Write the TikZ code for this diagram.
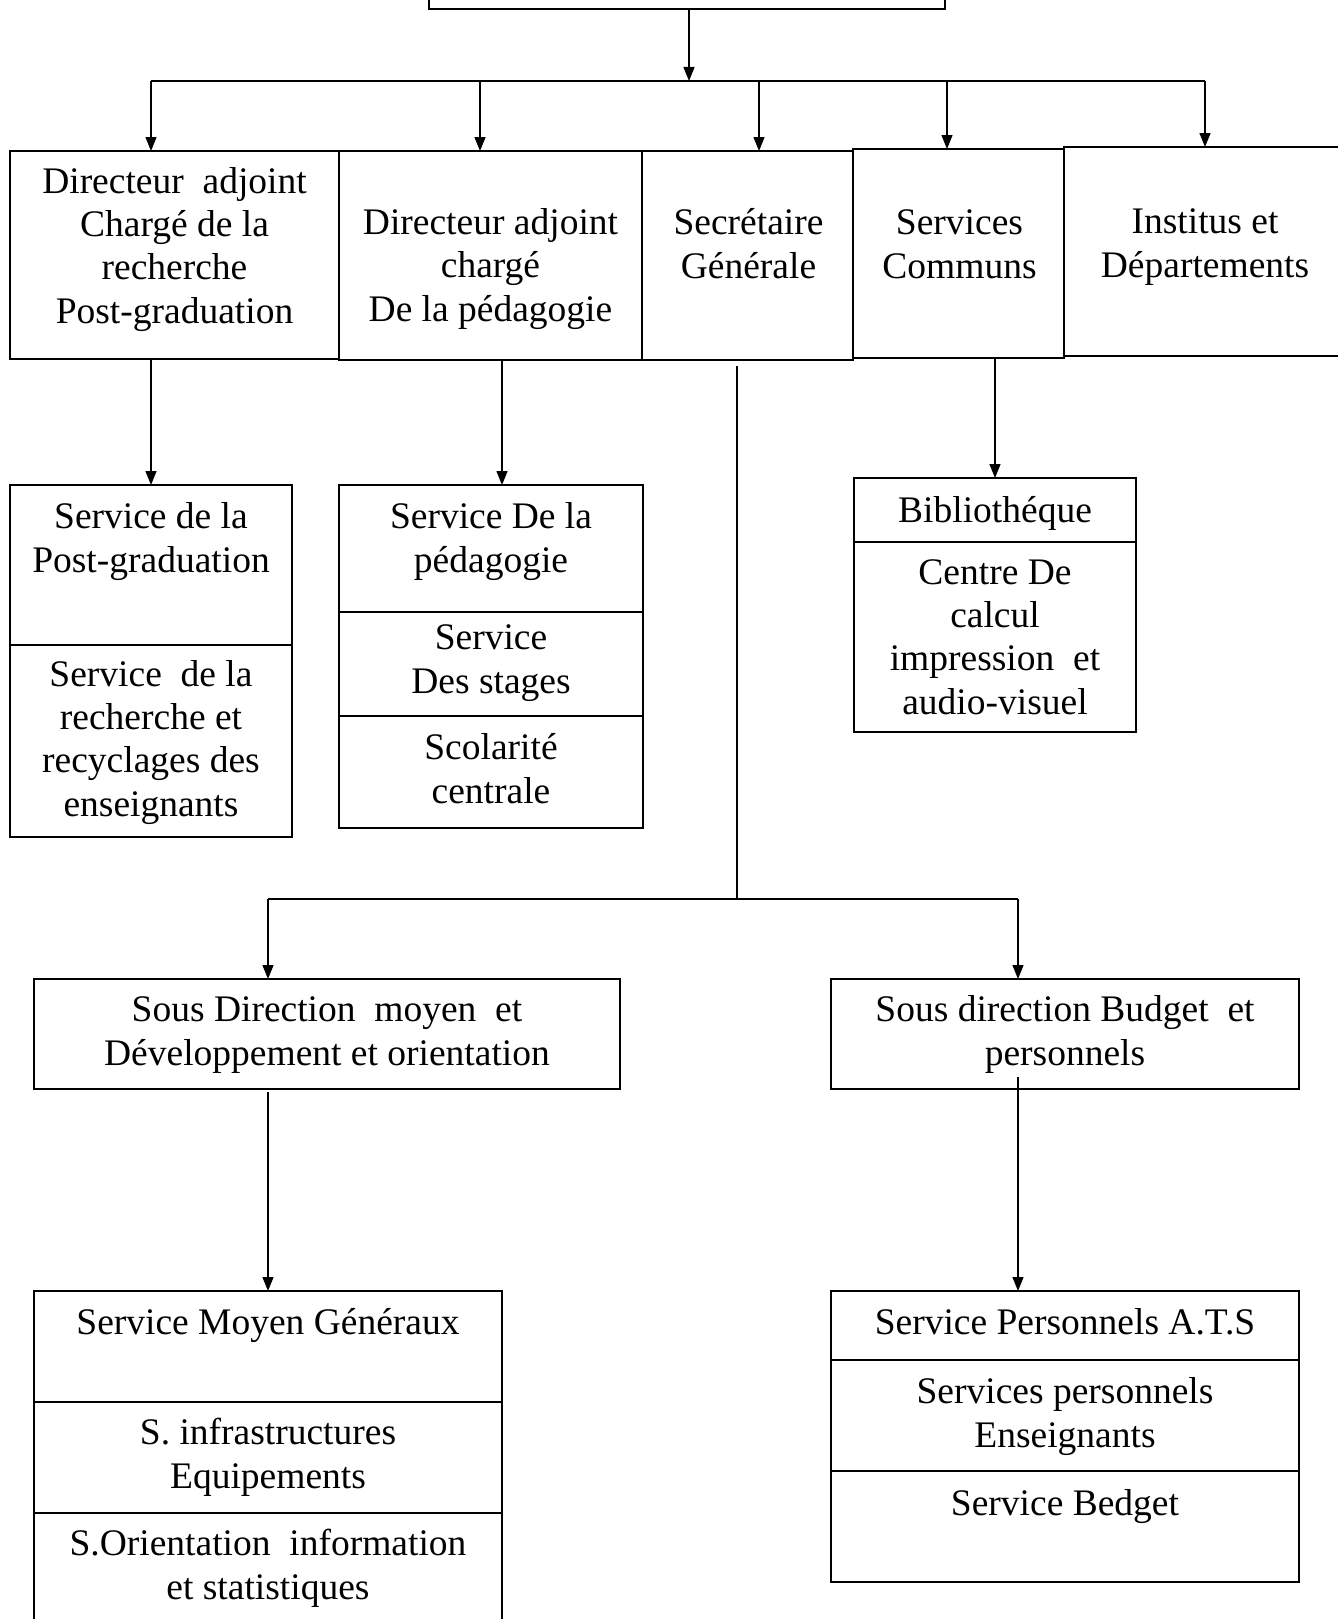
\documentclass[tikz,border=0pt]{standalone}
\usepackage{fontspec}
\setmainfont{Liberation Serif}
\usetikzlibrary{arrows.meta}
\begin{document}
\begin{tikzpicture}[x=1pt,y=-1pt,
  box/.style={draw, line width=2pt, inner sep=0pt, outer sep=0pt},
  txt/.style={align=center, inner sep=0pt, font=\fontsize{37.5}{43.2}\selectfont, anchor=base},
  arr/.style={line width=1.3pt, -{Triangle[length=14pt,width=11pt]}},
  conn/.style={line width=1.3pt},
  bus/.style={line width=2pt}]
\useasboundingbox (0,0) rectangle (1338,1619);
\clip (0,0) rectangle (1338,1619);
% boxes
\node[box, minimum width=516, minimum height=69] (top) at (687,-25.5) {};
\node[box, minimum width=329, minimum height=208] (b1) at (174.5,255) {};
\node[box, minimum width=303, minimum height=209] (b2) at (490.5,255.5) {};
\node[box, minimum width=211, minimum height=209] (b3) at (747.5,255.5) {};
\node[box, minimum width=211, minimum height=209] (b4) at (958.5,253.5) {};
\node[box, minimum width=282, minimum height=209] (b5) at (1205,251.5) {};
\node[box, minimum width=282, minimum height=160] (pg1) at (151,565) {};
\node[box, minimum width=282, minimum height=192] (pg2) at (151,741) {};
\node[box, minimum width=304, minimum height=127] (pd1) at (491,548.5) {};
\node[box, minimum width=304, minimum height=104] (pd2) at (491,664) {};
\node[box, minimum width=304, minimum height=112] (pd3) at (491,772) {};
\node[box, minimum width=282, minimum height=64] (bi1) at (995,510) {};
\node[box, minimum width=282, minimum height=190] (bi2) at (995,637) {};
\node[box, minimum width=586, minimum height=110] (sdm) at (327,1034) {};
\node[box, minimum width=468, minimum height=110] (sdb) at (1065,1034) {};
\node[box, minimum width=468, minimum height=111] (sm1) at (268,1346.5) {};
\node[box, minimum width=468, minimum height=111] (sm2) at (268,1457.5) {};
\node[box, minimum width=468, minimum height=127] (sm3) at (268,1576.5) {};
\node[box, minimum width=468, minimum height=69] (sp1) at (1065,1325.5) {};
\node[box, minimum width=468, minimum height=111] (sp2) at (1065,1415.5) {};
\node[box, minimum width=468, minimum height=111] (sp3) at (1065,1526.5) {};
% texts (anchor = baseline of the last line)
\node[txt] (tb1) at (174.5,323) {Directeur\ \ adjoint\\Chargé de la\\recherche\\Post-graduation};
\node[txt] (tb2) at (490.5,321) {Directeur adjoint\\chargé\\De la pédagogie};
\node[txt] (tb3) at (748.5,278) {Secrétaire\\Générale};
\node[txt] (tb4) at (959.5,278) {Services\\Communs};
\node[txt] (tb5) at (1205,277) {Institus et\\Départements};
\node[txt] (tpg1) at (151,572) {Service de la\\Post-graduation};
\node[txt] (tpg2) at (151,816) {Service\ \ de la\\recherche et\\recyclages des\\enseignants};
\node[txt] (tpd1) at (491,572) {Service De la\\pédagogie};
\node[txt] (tpd2) at (491,693) {Service\\Des stages};
\node[txt] (tpd3) at (491,803) {Scolarité\\centrale};
\node[txt] (tbi1) at (995,522) {Bibliothéque};
\node[txt] (tbi2) at (995,714) {Centre De\\calcul\\impression\ \ et\\audio-visuel};
\node[txt] (tsdm) at (327,1065) {Sous Direction\ \ moyen\ \ et\\Développement et orientation};
\node[txt] (tsdb) at (1065,1065) {Sous direction Budget\ \ et\\personnels};
\node[txt] (tsm1) at (268,1334) {Service Moyen Généraux};
\node[txt] (tsm2) at (268,1488) {S. infrastructures\\Equipements};
\node[txt] (tsm3) at (268,1599) {S.Orientation\ \ information\\et statistiques};
\node[txt] (tsp1) at (1065,1334) {Service Personnels A.T.S};
\node[txt] (tsp2) at (1065,1447) {Services personnels\\Enseignants};
\node[txt] (tsp3) at (1065,1515) {Service Bedget};
% connectors
\coordinate (bus0) at (689,81);
\coordinate (d1) at (151,81);
\coordinate (d2) at (480,81);
\coordinate (d3) at (759,81);
\coordinate (d4) at (947,81);
\coordinate (d5) at (1205,81);
\draw[arr] (top.south -| bus0) -- (bus0);
\draw[bus] (d1) -- (d5);
\draw[arr] (d1) -- (d1 |- b1.north);
\draw[arr] (d2) -- (d2 |- b2.north);
\draw[arr] (d3) -- (d3 |- b3.north);
\draw[arr] (d4) -- (d4 |- b4.north);
\draw[arr] (d5) -- (d5 |- b5.north);
\coordinate (c2) at (502,0);
\draw[arr] (b1.south -| pg1.north) -- (pg1.north);
\draw[arr] (b2.south -| c2) -- (pd1.north -| c2);
\draw[arr] (b4.south -| bi1.north) -- (bi1.north);
\coordinate (sg) at (737,899);
\coordinate (m1) at (268,899);
\coordinate (m2) at (1018,899);
\draw[conn] ([yshift=-6pt]b3.south -| sg) -- (sg);
\draw[bus] (m1) -- (m2);
\draw[arr] (m1) -- (sdm.north -| m1);
\draw[arr] (m2) -- (sdb.north -| m2);
\draw[arr] ([yshift=-3pt]sdm.south -| sm1.north) -- (sm1.north);
\draw[arr] ([yshift=12pt]sdb.south -| m2) -- (sp1.north -| m2);
\end{tikzpicture}
\end{document}
